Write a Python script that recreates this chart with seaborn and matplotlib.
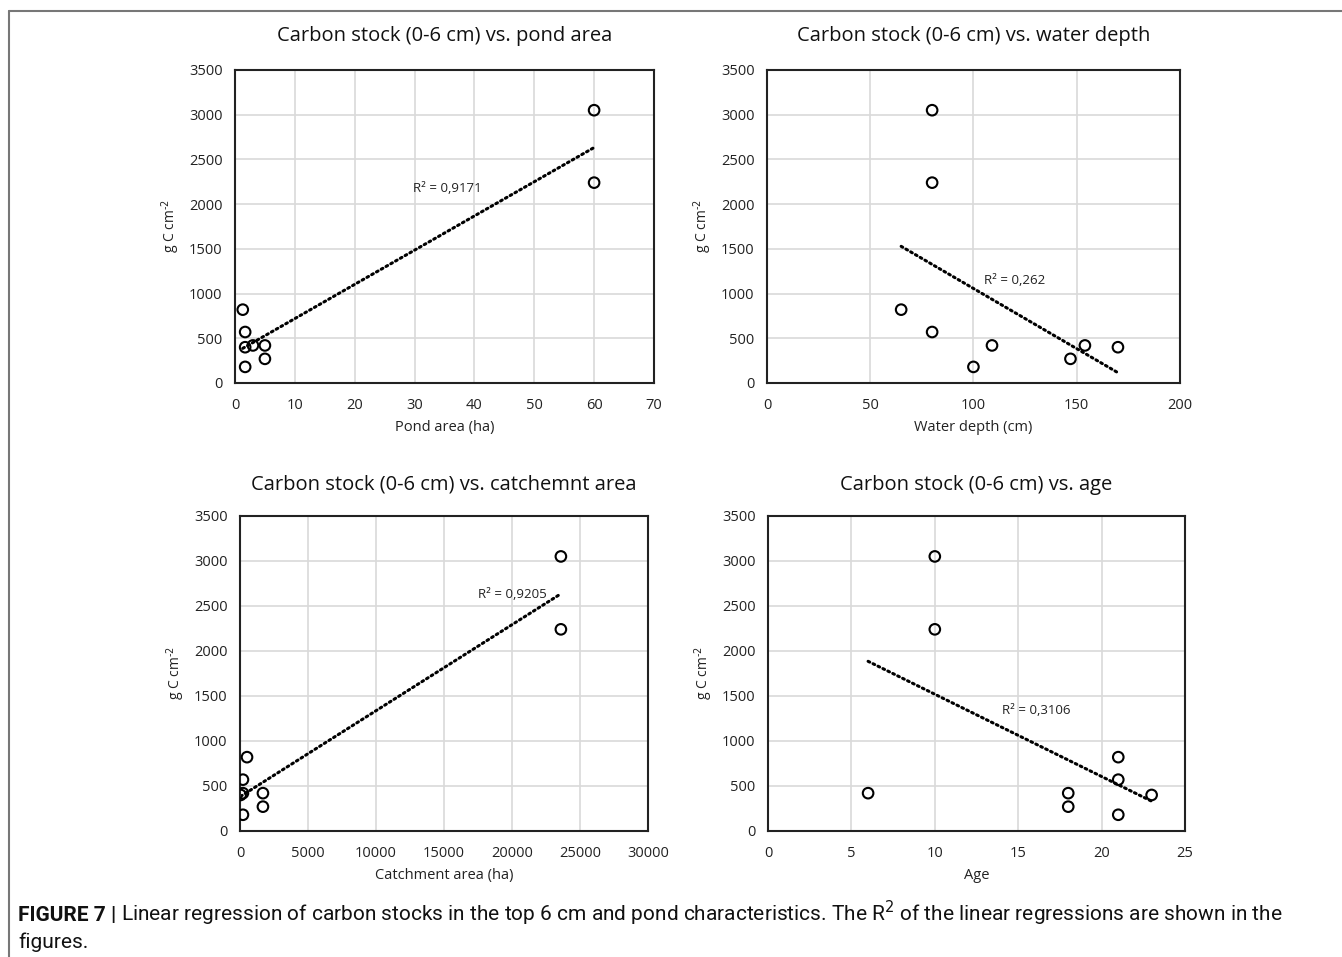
import numpy as np
import pandas as pd
import seaborn as sns
import matplotlib.pyplot as plt
from matplotlib.lines import Line2D

# carbon stock (g C cm-2), same 9 ponds in every panel
carbon = [3050, 2240, 820, 570, 180, 270, 420, 420, 400]
pond_area = [60, 60, 1.3, 1.7, 1.7, 5, 3, 5, 1.7]
water_depth = [80, 80, 65, 80, 100, 147, 109, 154, 170]
catchment_area = [23600, 23600, 520, 220, 220, 1690, 1690, 220, 50]
age = [10, 10, 21, 21, 21, 18, 18, 6, 23]

r2_labels = ["R² = 0,9171", "R² = 0,262", "R² = 0,9205", "R² = 0,3106"]
titles = ["Carbon stock (0-6 cm) vs. pond area",
          "Carbon stock (0-6 cm) vs. water depth",
          "Carbon stock (0-6 cm) vs. catchemnt area",
          "Carbon stock (0-6 cm) vs. age"]
xlabels = ["Pond area (ha)", "Water depth (cm)", "Catchment area (ha)", "Age"]

sns.set_theme(style="whitegrid")
plt.rcParams['font.family'] = ['Open Sans', 'DejaVu Sans']

fig = plt.figure(figsize=(13.42, 9.57), dpi=100)

panels = [
    (pond_area, [0.1751, 0.5998, 0.3122, 0.3271], (0, 70), 10, (35.4, 2170)),
    (water_depth, [0.5715, 0.5998, 0.3077, 0.3271], (0, 200), 50, (120, 1150)),
    (catchment_area, [0.1788, 0.1317, 0.3040, 0.3292], (0, 30000), 5000, (20000, 2630)),
    (age, [0.5723, 0.1317, 0.3107, 0.3292], (0, 25), 5, (16.1, 1340)),
]

for i, (xvals, rect, xlim, xstep, lab) in enumerate(panels):
    ax = fig.add_axes(rect)
    df = pd.DataFrame({"x": xvals, "y": carbon})
    sns.regplot(data=df, x="x", y="y", ax=ax, scatter=False, ci=None,
                line_kws=dict(color="black", lw=2.2, ls=(0, (0.6, 1.2)),
                              dash_capstyle="round"))
    sns.scatterplot(data=df, x="x", y="y", ax=ax, marker="o", s=58,
                    facecolor="none", edgecolor="black", linewidth=1.5, zorder=3)
    ax.set_xlim(*xlim)
    ax.set_ylim(0, 3500)
    ax.set_xticks(np.arange(xlim[0], xlim[1] + 1, xstep))
    ax.set_yticks(np.arange(0, 3501, 500))
    ax.grid(True, color="#d9d9d9", lw=1.2)
    for s in ax.spines.values():
        s.set_color("#222222")
        s.set_linewidth(1.5)
    ax.tick_params(axis="y", labelsize=10.5, colors="#222222", pad=3)
    ax.tick_params(axis="x", labelsize=10.5, colors="#222222", pad=5)
    ax.set_xlabel(xlabels[i], fontsize=10.5, color="#222222", labelpad=5)
    ax.set_ylabel("g C cm$^{\\text{-2}}$", fontsize=10, color="#222222", labelpad=5)
    ax.set_title(titles[i], fontsize=14.5, color="#111111", pad=21 if i < 2 else 19)
    ax.text(lab[0], lab[1], r2_labels[i], fontsize=9.5, color="#222222",
            ha="center", va="center")

# outer frame lines
fig.add_artist(Line2D([0.0067, 1.0], [0.9885, 0.9885], color="#777777", lw=1.5))
fig.add_artist(Line2D([0.0067, 0.0067], [0.0, 0.9885], color="#777777", lw=1.5))

# caption
cap_size = 15
t1 = fig.text(0.0134, 0.0376, "FIGURE 7 |", fontsize=cap_size, fontweight="bold",
              family="Roboto", color="#111111", va="baseline")
fig.canvas.draw()
bb = t1.get_window_extent(renderer=fig.canvas.get_renderer())
x2 = (bb.x1 + 5) / fig.bbox.width
fig.text(x2, 0.0376, "Linear regression of carbon stocks in the top 6 cm and pond characteristics. "
         "The R$^2$ of the linear regressions are shown in the",
         fontsize=cap_size, family="Roboto", color="#111111", va="baseline")
fig.text(0.0134, 0.0094, "figures.", fontsize=cap_size, family="Roboto",
         color="#111111", va="baseline")

fig.savefig("out.png", dpi=100)
